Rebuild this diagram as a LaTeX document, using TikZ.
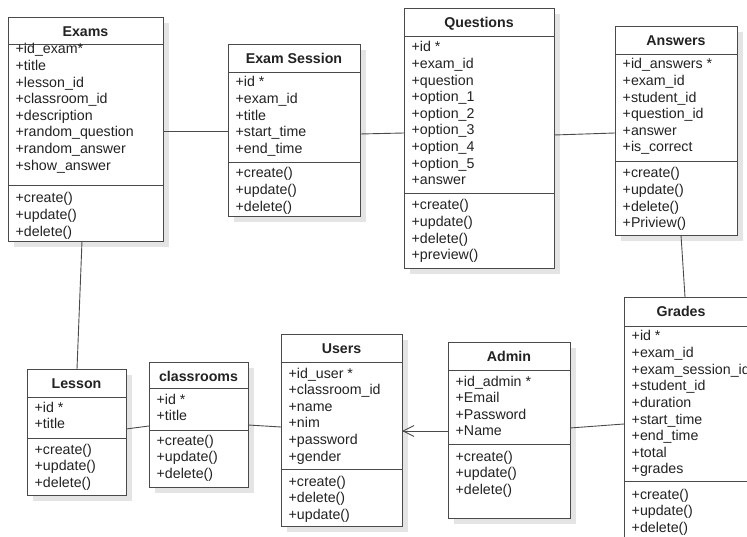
\documentclass[tikz,border=0pt]{standalone}
\usepackage{fontspec}
\setmainfont{Liberation Sans}
\usetikzlibrary{calc,arrows.meta}
\definecolor{boxline}{HTML}{4A4A4A}
\definecolor{boxshadow}{HTML}{E4E4E4}
\definecolor{txt}{HTML}{222222}
\tikzset{
  umlbox/.style={draw=boxline, line width=0.9pt, fill=white, inner sep=0pt, outer sep=0pt, anchor=north west},
  umlshadow/.style={fill=boxshadow},
  umldiv/.style={draw=boxline, line width=0.9pt},
  umltitle/.style={font=\fontsize{14.2}{16}\selectfont\bfseries, text=txt, inner sep=0pt, anchor=base},
  umltext/.style={font=\fontsize{14.2}{16}\selectfont, text=txt, inner sep=0pt, anchor=base west},
  conn/.style={draw=boxline, line width=0.9pt},
}
% [title x shift], name, left, top, right, bottom, title, header divider, attr divider
\newcommand\classbox[9][0]{%
  \fill[umlshadow] (#3+6,#4+6) rectangle (#5+6,#6+6);
  \node[umlbox, minimum width=#5pt-#3pt, minimum height=#6pt-#4pt] (#2) at (#3,#4) {};
  \node[umltitle] (#2-title) at ({(#3+#5)/2+#1},#4+19.5) {#7};
  \draw[umldiv] (#3,#8) -- (#5,#8);
  \draw[umldiv] (#3,#9) -- (#5,#9);
}
% name prefix, left, first line center y, list
\newcommand\classlines[4]{%
  \foreach \t [count=\i from 0] in {#4}
    \node[umltext] (#1\i) at (#2+7.5,#3+5+\i*16.6) {\t};
}
\begin{document}
\begin{tikzpicture}[x=1pt,y=-1pt]
\useasboundingbox (0,0) rectangle (747,537);
\clip (0,0) rectangle (747,537);

% Exams
\classbox{exams}{8}{17}{163}{241}{Exams}{44}{185}
\classlines{exams-a}{8}{49}{+id\_exam*,+title,+lesson\_id,+classroom\_id,+description,+random\_question,+random\_answer,+show\_answer}
\classlines{exams-m}{8}{198}{+create(),+update(),+delete()}

% Exam Session
\classbox{session}{228}{44}{360}{216}{Exam Session}{72}{162}
\classlines{session-a}{228}{82}{+id *,+exam\_id,+title,+start\_time,+end\_time}
\classlines{session-m}{228}{173}{+create(),+update(),+delete()}

% Questions
\classbox{questions}{404}{8}{554}{268}{Questions}{36}{193}
\classlines{questions-a}{404}{47}{+id *,+exam\_id,+question,+option\_1,+option\_2,+option\_3,+option\_4,+option\_5,+answer}
\classlines{questions-m}{404}{205}{+create(),+update(),+delete(),+preview()}

% Answers
\classbox{answers}{615}{26}{737}{235}{Answers}{54}{161}
\classlines{answers-a}{615}{64}{+id\_answers *,+exam\_id,+student\_id,+question\_id,+answer,+is\_correct}
\classlines{answers-m}{615}{173}{+create(),+update(),+delete(),+Priview()}

% Grades (runs past the right and bottom edges)
\classbox[-16]{grades}{624}{297}{770}{550}{Grades}{326}{481}
\classlines{grades-a}{624}{336}{+id *,+exam\_id,+exam\_session\_id,+student\_id,+duration,+start\_time,+end\_time,+total,+grades}
\classlines{grades-m}{624}{494}{+create(),+update(),+delete()}

% Admin
\classbox{admin}{448}{342}{570}{518}{Admin}{370}{444}
\classlines{admin-a}{448}{381}{+id\_admin *,+Email,+Password,+Name}
\classlines{admin-m}{448}{456}{+create(),+update(),+delete()}

% Users
\classbox{users}{281}{334}{402}{526}{Users}{362}{469}
\classlines{users-a}{281}{373}{+id\_user *,+classroom\_id,+name,+nim,+password,+gender}
\classlines{users-m}{281}{481}{+create(),+delete(),+update()}

% classrooms
\classbox{classrooms}{149}{362}{248}{487}{classrooms}{388}{430}
\classlines{classrooms-a}{149}{399}{+id *,+title}
\classlines{classrooms-m}{149}{440}{+create(),+update(),+delete()}

% Lesson
\classbox{lesson}{27}{369}{126}{495}{Lesson}{397}{438}
\classlines{lesson-a}{27}{407}{+id *,+title}
\classlines{lesson-m}{27}{449}{+create(),+update(),+delete()}

% Connectors
\draw[conn] ($(exams.south west)+(74,0)$) -- ($(lesson.north west)+(50,0)$);
\draw[conn] ($(exams.north east)+(0,114)$) -- ($(session.north west)+(0,87)$);
\draw[conn] ($(session.north east)+(0,90)$) -- ($(questions.north west)+(0,125)$);
\draw[conn] ($(questions.north east)+(0,127)$) -- ($(answers.north west)+(0,107)$);
\draw[conn] ($(answers.south west)+(66,0)$) -- ($(grades.north west)+(61,0)$);
\draw[conn] ($(admin.north east)+(0,86)$) -- ($(grades.north west)+(0,127)$);
\draw[conn, -{Straight Barb[length=11pt,width=11pt,line width=0.9pt]}] ($(admin.north west)+(0,89)$) -- ($(users.north east)+(0,97)$);
\draw[conn] ($(classrooms.north east)+(0,63)$) -- ($(users.north west)+(0,93)$);
\draw[conn] ($(lesson.north east)+(0,60)$) -- ($(classrooms.north west)+(0,64)$);
\end{tikzpicture}
\end{document}
